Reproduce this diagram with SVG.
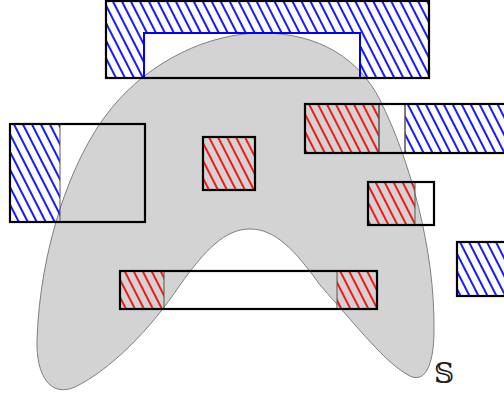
<svg xmlns="http://www.w3.org/2000/svg" width="504" height="396" viewBox="0 0 504 396">
<defs>
<pattern id="hb" patternUnits="userSpaceOnUse" width="8" height="40" patternTransform="rotate(-27)">
<line x1="4" y1="0" x2="4" y2="40" stroke="#0000ff" stroke-width="1.8"/>
</pattern>
<pattern id="hr" patternUnits="userSpaceOnUse" width="8" height="40" patternTransform="rotate(-27)">
<line x1="4" y1="0" x2="4" y2="40" stroke="#ff0000" stroke-width="1.8"/>
</pattern>
</defs>
<style>
.blob{fill:#d3d3d3;stroke:#808080;stroke-width:1}
.b{fill:url(#hb);stroke:#555;stroke-width:1}
.r{fill:url(#hr);stroke:#555;stroke-width:1}
.box{fill:none;stroke:#000;stroke-width:2.2}
.lbl{font-family:"DejaVu Serif","DejaVu Sans",serif;font-size:28px;fill:#222}
</style>
<rect width="504" height="396" fill="#fff"/>
<g id="top">
<path class="b" fill-rule="evenodd" stroke="none" d="M106 1H429V78H106Z M144 33H360V78H144Z"/>
</g>
<g id="S">
<path class="blob" d="M262 33 C320 33 360 60 380 100 C410 160 435 250 434 330 C434 365 425 385 408 375 C385 362 360 330 320 285 C295 250 275 229 250 229 C225 229 205 250 180 285 C150 330 110 370 75 387 C50 398 36 375 37 340 C40 250 70 160 110 110 C150 60 210 33 262 33 Z"/>
<text class="lbl" x="434" y="383">𝕊</text>
</g>
<g id="top-frame">
<rect x="144" y="33" width="216" height="45" fill="none" stroke="#0000ff" stroke-width="2"/>
<rect class="box" x="106" y="1" width="323" height="77"/>
</g>
<g id="left">
<rect class="b" x="10" y="124" width="50" height="98"/>
<rect class="box" x="10" y="124" width="135" height="98"/>
</g>
<g id="center">
<rect class="r" x="203" y="137" width="52" height="53"/>
<rect class="box" x="203" y="137" width="52" height="53"/>
</g>
<g id="right-top">
<rect class="r" x="305" y="104" width="74" height="49"/>
<rect class="b" x="405" y="104" width="102" height="49"/>
<rect x="379" y="104" width="26" height="49" fill="none" stroke="#555" stroke-width="1"/>
<rect class="box" x="305" y="104" width="202" height="49"/>
</g>
<g id="right-small">
<rect class="r" x="368" y="182" width="47" height="43"/>
<rect class="box" x="368" y="182" width="66" height="43"/>
</g>
<g id="bottom">
<rect class="r" x="120" y="271" width="44" height="38"/>
<rect class="r" x="337" y="271" width="40" height="38"/>
<rect class="box" x="120" y="271" width="257" height="38"/>
</g>
<g id="right-far">
<rect class="b" x="457" y="242" width="50" height="54"/>
<rect class="box" x="457" y="242" width="50" height="54"/>
</g>
<g id="connectors"></g>
</svg>
